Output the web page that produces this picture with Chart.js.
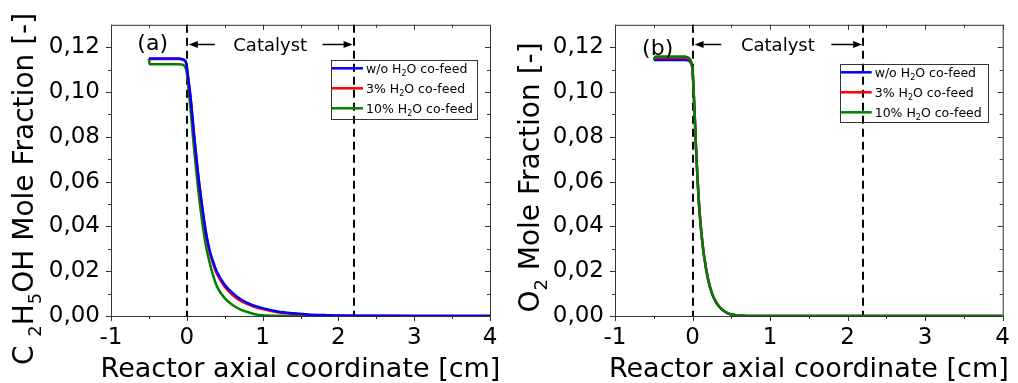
<!DOCTYPE html>
<html>
<head>
<meta charset="utf-8">
<script src="https://cdn.jsdelivr.net/npm/chart.js@4.4.1/dist/chart.umd.min.js"></script>
<style>
  html, body { margin: 0; padding: 0; background: #fff; }
  .panel { position: absolute; top: 0; width: 509px; height: 383px; }
</style>
</head>
<body>
<div class="panel" style="left:0"><canvas id="chartA" width="509" height="383"></canvas></div>
<div class="panel" style="left:509px"><canvas id="chartB" width="509" height="383"></canvas></div>
<script>
const seriesLabels = ['w/o H₂O co-feed', '3% H₂O co-feed', '10% H₂O co-feed'];
const seriesColors = ['#0000ff', '#ff0000', '#008000'];
const yTickValues = [0, 0.02, 0.04, 0.06, 0.08, 0.10, 0.12];

// catalyst bed boundaries [cm]
const catalystStart = 0;
const catalystEnd = 2.2;

// (a) ethanol mole fraction along the reactor
const zA = [-0.5, -0.49, -0.1, -0.06, -0.03, -0.01, 0, 0.02, 0.05, 0.1, 0.15, 0.2, 0.25, 0.3, 0.35, 0.4,
  0.5, 0.6, 0.7, 0.8, 0.9, 1.0, 1.2, 1.4, 1.6, 1.8, 2.0, 2.5, 3.0, 4.0];
const ethanolDry = [0.1149, 0.1149, 0.1149, 0.1147, 0.1142, 0.1132, 0.1115, 0.1060, 0.0975, 0.0795, 0.0632,
  0.0497, 0.0380, 0.0295, 0.0240, 0.0195, 0.0140, 0.0104, 0.0077, 0.0059, 0.0045, 0.0035, 0.0020, 0.0012,
  0.0007, 0.0004, 0.0002, 0.0001, 0, 0];
const ethanolH2O3 = [0.1147, 0.1147, 0.1147, 0.1145, 0.1140, 0.1130, 0.1113, 0.1058, 0.0973, 0.0793, 0.0628,
  0.0492, 0.0374, 0.0288, 0.0231, 0.0186, 0.0131, 0.0095, 0.0070, 0.0053, 0.0040, 0.0031, 0.0017, 0.0010,
  0.0005, 0.0003, 0.0001, 0, 0, 0];
const ethanolH2O10 = [0.1149, 0.1124, 0.1124, 0.1122, 0.1116, 0.1102, 0.1085, 0.1025, 0.0920, 0.0730, 0.0565,
  0.0428, 0.0318, 0.0240, 0.0178, 0.0130, 0.0080, 0.0050, 0.0030, 0.0018, 0.0008, 0.0003, 0.0001, 0,
  0, 0, 0, 0, 0, 0];

// (b) oxygen mole fraction along the reactor
const zB = [-0.5, -0.48, -0.1, -0.07, -0.04, -0.02, -0.01, 0, 0.015, 0.03, 0.05, 0.075, 0.1, 0.125, 0.15,
  0.2, 0.25, 0.3, 0.35, 0.4, 0.45, 0.5, 0.6, 0.7, 1.0, 2.0, 3.0, 4.0];
const oxygenDry = [0.1143, 0.1143, 0.1143, 0.1142, 0.1138, 0.1128, 0.1118, 0.1098, 0.0997, 0.0878, 0.0708,
  0.0544, 0.0424, 0.0334, 0.0264, 0.0164, 0.0101, 0.0063, 0.0039, 0.0023, 0.0013, 0.0007, 0.0002, 0,
  0, 0, 0, 0];
const oxygenH2O3 = [0.1150, 0.1153, 0.1153, 0.1151, 0.1145, 0.1133, 0.1121, 0.1100, 0.0998, 0.0879, 0.0709,
  0.0545, 0.0425, 0.0335, 0.0265, 0.0165, 0.0102, 0.0064, 0.0040, 0.0024, 0.0013, 0.0007, 0.0002, 0,
  0, 0, 0, 0];
const oxygenH2O10 = [0.1143, 0.1158, 0.1158, 0.1156, 0.1150, 0.1138, 0.1126, 0.1104, 0.1000, 0.0880, 0.0710,
  0.0545, 0.0425, 0.0335, 0.0265, 0.0165, 0.0102, 0.0064, 0.0040, 0.0024, 0.0013, 0.0007, 0.0002, 0,
  0, 0, 0, 0];

const FONT = '"DejaVu Sans", "Liberation Sans", sans-serif';

// draws text where ₀-₉ become real subscripts
function drawRich(ctx, text, x, y, size, align) {
  const runs = [];
  for (const ch of text) {
    const code = ch.codePointAt(0);
    const sub = code >= 0x2080 && code <= 0x2089;
    const c = sub ? String.fromCharCode(48 + code - 0x2080) : ch;
    const last = runs[runs.length - 1];
    if (last && last.sub === sub) last.t += c;
    else runs.push({ t: c, sub: sub });
  }
  const fontFor = sub => (sub ? Math.round(size * 0.65) : size) + 'px ' + FONT;
  let total = 0;
  runs.forEach(r => { ctx.font = fontFor(r.sub); r.w = ctx.measureText(r.t).width; total += r.w; });
  let cx = align === 'center' ? x - total / 2 : x;
  ctx.textAlign = 'left';
  ctx.textBaseline = 'alphabetic';
  runs.forEach(r => {
    ctx.font = fontFor(r.sub);
    ctx.fillText(r.t, cx, y + (r.sub ? size * 0.28 : 0));
    cx += r.w;
  });
}

function arrow(ctx, x1, x2, y) {
  const d = Math.sign(x2 - x1);
  ctx.beginPath(); ctx.moveTo(x1, y); ctx.lineTo(x2 - d * 4, y); ctx.stroke();
  ctx.beginPath(); ctx.moveTo(x2, y); ctx.lineTo(x2 - d * 9, y - 3.5); ctx.lineTo(x2 - d * 9, y + 3.5);
  ctx.closePath(); ctx.fill();
}

function makeChart(canvasId, xs, values, cfg) {
  const decor = {
    id: 'decor',
    beforeDatasetsDraw(chart) {
      const { ctx, chartArea: a, scales: { x, y } } = chart;
      ctx.save();
      ctx.strokeStyle = '#000';
      ctx.lineWidth = 2;
      ctx.setLineDash([8, 5]);
      [catalystStart, catalystEnd].forEach(v => {
        const px = Math.round(x.getPixelForValue(v));
        ctx.beginPath(); ctx.moveTo(px, a.top); ctx.lineTo(px, a.bottom); ctx.stroke();
      });
      ctx.setLineDash([]);

      // frame with major/minor ticks
      ctx.strokeStyle = '#333';
      ctx.lineWidth = 1;
      ctx.strokeRect(a.left + 0.5, a.top + 0.5, a.right - a.left, a.bottom - a.top);
      const xt = x.ticks.map(t => t.value);
      const yt = y.ticks.map(t => t.value);
      const minorX = xt.slice(1).map((v, i) => (v + xt[i]) / 2);
      const minorY = yt.slice(1).map((v, i) => (v + yt[i]) / 2);
      ctx.beginPath();
      xt.forEach(v => {
        const px = Math.round(x.getPixelForValue(v)) + 0.5;
        ctx.moveTo(px, a.bottom); ctx.lineTo(px, a.bottom + 5);
        ctx.moveTo(px, a.top); ctx.lineTo(px, a.top + 5);
      });
      minorX.forEach(v => {
        const px = Math.round(x.getPixelForValue(v)) + 0.5;
        ctx.moveTo(px, a.bottom); ctx.lineTo(px, a.bottom + 3);
        ctx.moveTo(px, a.top); ctx.lineTo(px, a.top + 3);
      });
      yt.forEach(v => {
        const py = Math.round(y.getPixelForValue(v)) + 0.5;
        ctx.moveTo(a.left, py); ctx.lineTo(a.left - 5, py);
        ctx.moveTo(a.right, py); ctx.lineTo(a.right - 5, py);
      });
      minorY.forEach(v => {
        const py = Math.round(y.getPixelForValue(v)) + 0.5;
        ctx.moveTo(a.left, py); ctx.lineTo(a.left - 3, py);
        ctx.moveTo(a.right, py); ctx.lineTo(a.right - 3, py);
      });
      ctx.stroke();
      ctx.restore();
    },
    afterDatasetsDraw(chart) {
      const { ctx, chartArea: a, scales: { x, y } } = chart;
      ctx.save();
      ctx.fillStyle = '#000';
      ctx.strokeStyle = '#000';

      // panel letter
      ctx.font = '22px ' + FONT;
      ctx.textAlign = 'center';
      ctx.textBaseline = 'middle';
      ctx.fillText(cfg.panel, x.getPixelForValue(-0.45), y.getPixelForValue(cfg.panelY));

      // catalyst zone
      ctx.font = '18px ' + FONT;
      ctx.fillText('Catalyst', x.getPixelForValue((catalystStart + catalystEnd) / 2), y.getPixelForValue(0.1205));
      ctx.lineWidth = 1.5;
      const ay = Math.round(y.getPixelForValue(0.1214)) + 0.5;
      arrow(ctx, x.getPixelForValue(0.37), x.getPixelForValue(catalystStart) + 2, ay);
      arrow(ctx, x.getPixelForValue(1.79), x.getPixelForValue(catalystEnd) - 1, ay);

      // legend
      const bx = a.right + cfg.legend.dx - cfg.legend.w;
      const by = a.top + cfg.legend.dy;
      ctx.lineWidth = 1;
      ctx.strokeStyle = '#333';
      ctx.strokeRect(Math.round(bx) + 0.5, Math.round(by) + 0.5, cfg.legend.w, cfg.legend.h);
      seriesLabels.forEach((label, i) => {
        const ry = by + 8.5 + i * 20;
        ctx.strokeStyle = seriesColors[i];
        ctx.lineWidth = 2.5;
        ctx.beginPath(); ctx.moveTo(bx + 1, ry); ctx.lineTo(bx + 32, ry); ctx.stroke();
        ctx.fillStyle = '#000';
        drawRich(ctx, label, bx + 35, ry + 4.5, 12.5, 'left');
      });
      ctx.restore();
    },
    afterDraw(chart) {
      const { ctx, chartArea: a } = chart;
      ctx.save();
      ctx.fillStyle = '#000';
      drawRich(ctx, 'Reactor axial coordinate [cm]', (a.left + a.right) / 2, 377, 27, 'center');
      ctx.translate(cfg.yTitleX, cfg.yTitleY);
      ctx.rotate(-Math.PI / 2);
      drawRich(ctx, cfg.yTitle, 0, 0, 28, 'center');
      ctx.restore();
    }
  };

  const tickFont = { family: FONT, size: 23 };

  return new Chart(document.getElementById(canvasId), {
    type: 'line',
    data: {
      datasets: values.map((arr, i) => ({
        label: seriesLabels[i],
        data: xs.map((x, j) => ({ x: x, y: arr[j] })),
        borderColor: seriesColors[i],
        order: cfg.order[i]
      }))
    },
    options: {
      responsive: false,
      animation: false,
      devicePixelRatio: 1,
      layout: { padding: { top: cfg.padTop, right: cfg.padRight, left: 0, bottom: 0 } },
      elements: {
        point: { radius: 0 },
        line: { borderWidth: 2.5, cubicInterpolationMode: 'monotone' }
      },
      plugins: { legend: { display: false }, tooltip: { enabled: false } },
      scales: {
        x: {
          type: 'linear', min: -1, max: 4,
          ticks: { stepSize: 1, font: tickFont, color: '#000', padding: 8, maxRotation: 0 },
          grid: { display: false, drawTicks: false },
          border: { display: false },
          afterFit: s => { s.height = 67; }
        },
        y: {
          type: 'linear', min: 0, max: 0.13,
          ticks: {
            font: tickFont, color: '#000', padding: 11,
            callback: v => v.toFixed(2).replace('.', ',')
          },
          afterBuildTicks: s => { s.ticks = yTickValues.map(v => ({ value: v })); },
          grid: { display: false, drawTicks: false },
          border: { display: false },
          afterFit: s => { s.width = cfg.yWidth; }
        }
      }
    },
    plugins: [decor]
  });
}

makeChart('chartA', zA, [ethanolDry, ethanolH2O3, ethanolH2O10], {
  panel: '(a)', panelY: 0.1212,
  yTitle: 'C ₂H₅OH Mole Fraction [-]', yTitleX: 33, yTitleY: 189,
  yWidth: 111, padTop: 20, padRight: 19,
  legend: { dx: -13, dy: 35, w: 146, h: 59 },
  order: [1, 2, 3]
});

makeChart('chartB', zB, [oxygenDry, oxygenH2O3, oxygenH2O10], {
  panel: '(b)', panelY: 0.1192,
  yTitle: 'O₂ Mole Fraction [-]', yTitleX: 30, yTitleY: 177.5,
  yWidth: 106, padTop: 13, padRight: 15,
  legend: { dx: -15, dy: 39, w: 148, h: 58 },
  order: [3, 2, 1]
});
</script>
</body>
</html>
